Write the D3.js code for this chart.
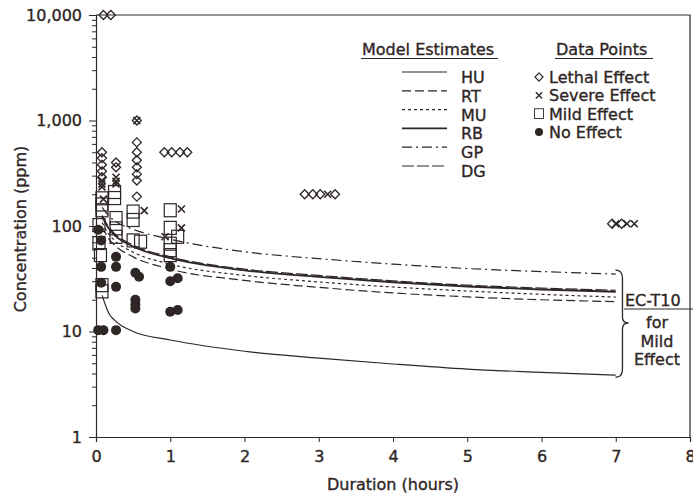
<!DOCTYPE html>
<html>
<head>
<meta charset="utf-8">
<script src="https://cdn.jsdelivr.net/npm/d3@7"></script>
<style>
body { margin: 0; background: #fff; }
text { font-family: "DejaVu Sans", Arial, sans-serif; fill: #2f2626; stroke: #2f2626; stroke-width: 0.35px; }
</style>
</head>
<body>
<script>
var width = 693, height = 499;
var ink = "#2f2626";

// model estimate curves (ppm at each duration)
var durations = [0.083, 0.17, 0.25, 0.5, 1, 2, 3, 4, 5, 6, 7];
var HU = [22, 15, 12.8, 10, 8.3, 6.5, 5.6, 4.92, 4.4, 4.1, 3.85];
var RT = [98, 76, 66, 51, 39, 30.5, 26.2, 23.2, 21.3, 20, 19.2];
var MU = [108, 84, 73, 56.5, 43.5, 34, 29.5, 26.4, 24.2, 22.5, 21.2];
var RB = [122, 95, 82, 64, 49.5, 38, 33, 29.3, 26.7, 25, 23.8];
var GP = [150, 125, 112, 93, 75, 57, 49, 43.5, 39.5, 37, 35];
var DG = [126, 98, 85, 66, 51, 39, 34, 30.2, 27.5, 25.8, 24.6];
var modelNames = ["HU", "RT", "MU", "RB", "GP", "DG"];
var modelValues = [HU, RT, MU, RB, GP, DG];
var modelDash = ["none", "9,4", "3,3", "none", "10,4,2,4", "12,3"];
var modelWidth = [1.2, 1.2, 1.2, 1.8, 1.2, 1.2];

// data points [hours, ppm]
var lethal = [[0.1,10000],[0.2,10000],[0.08,500],[0.08,440],[0.08,380],[0.08,330],[0.08,290],
  [0.27,400],[0.27,360],[0.55,1000],[0.55,620],[0.55,500],[0.55,420],[0.55,360],[0.55,310],
  [0.55,270],[0.55,190],[0.92,500],[1.02,500],[1.13,500],[1.23,500],[2.81,200],[2.92,200],
  [3.02,200],[3.22,200],[6.95,105],[7.08,105]];
var severe = [[0.08,270],[0.08,250],[0.08,235],[0.1,180],[0.27,290],[0.27,265],[0.27,250],
  [0.55,1000],[0.65,140],[1.15,145],[1.15,96],[0.93,79],[3.12,200],[7.0,105],[7.15,105],[7.25,105]];
var mild = [[0.08,183],[0.08,160],[0.08,141],[0.04,102],[0.04,69],[0.06,53],[0.08,27.5],[0.08,24],
  [0.25,210],[0.25,184],[0.27,119],[0.27,95],[0.27,79],[0.5,137],[0.5,114],[0.5,73],[0.6,71],
  [1,141],[1,96],[1.1,79],[1,68],[1,59],[1,53]];
var noEffect = [[0.03,92],[0.07,73],[0.07,41],[0.07,29],[0.03,10.3],[0.1,10.3],[0.27,51],[0.27,41],
  [0.27,26.5],[0.27,10.3],[0.53,36],[0.58,33],[0.53,20],[0.53,18],[0.53,16.5],[1,41],[1,30],
  [1.1,32],[1,15.4],[1.1,16]];

var yTickLabels = ["1", "10", "100", "1,000", "10,000"];

var svg = d3.select("body").append("svg").attr("width", width).attr("height", height);

var x = d3.scaleLinear().domain([0, 8]).range([96, 690]);
var y = d3.scaleLog().domain([1, 10000]).range([437, 15]);

// frame
svg.append("path").attr("fill", "none").attr("stroke", ink).attr("stroke-width", 1.2)
  .attr("d", "M" + x(0) + "," + y(10000) + "H" + x(8) + "V" + y(1));

// x axis
var xAxis = svg.append("g").attr("transform", "translate(0," + y(1) + ")")
  .call(d3.axisBottom(x).ticks(8).tickSize(5).tickPadding(9).tickFormat(d3.format("d")));
xAxis.selectAll("text").style("font-size", "16px");

// y axis with log minor ticks
var yTicks = [];
for (var p = 0; p < 4; p++) {
  for (var m = 1; m < 10; m++) yTicks.push(m * Math.pow(10, p));
}
yTicks.push(10000);
var yAxis = svg.append("g").attr("transform", "translate(" + x(0) + ",0)")
  .call(d3.axisLeft(y).tickValues(yTicks).tickSize(4).tickPadding(10)
    .tickFormat(function(d){
      var k = Math.round(Math.log10(d));
      return Math.abs(Math.log10(d) - k) < 1e-9 ? yTickLabels[k] : "";
    }));
yAxis.selectAll("text").style("font-size", "16px");
yAxis.selectAll(".tick line").attr("x2", function(d){
  return Math.abs(Math.log10(d) - Math.round(Math.log10(d))) < 1e-9 ? -7 : -4;
});
svg.selectAll(".domain").attr("stroke", ink).attr("stroke-width", 1.2);
svg.selectAll(".tick line").attr("stroke", ink);
svg.selectAll(".tick text").attr("fill", ink);

// axis titles
svg.append("text").attr("x", 393).attr("y", 490).attr("text-anchor", "middle")
  .style("font-size", "16px").text("Duration (hours)");
svg.append("text").attr("transform", "translate(26,229) rotate(-90)").attr("text-anchor", "middle")
  .style("font-size", "16px").text("Concentration (ppm)");

// model curves
var line = d3.line()
  .x(function(d){ return x(d[0]); })
  .y(function(d){ return y(d[1]); })
  .curve(d3.curveMonotoneX);
modelValues.forEach(function(vals, i){
  svg.append("path")
    .datum(durations.map(function(t, j){ return [t, vals[j]]; }))
    .attr("fill", "none").attr("stroke", ink).attr("stroke-width", modelWidth[i])
    .attr("stroke-dasharray", modelDash[i] === "none" ? null : modelDash[i])
    .attr("d", line);
});

// marker drawing helpers
function diamond(g, px, py) {
  g.append("path").attr("d", "M" + px + "," + (py - 4.5) + "l4.5,4.5l-4.5,4.5l-4.5,-4.5z")
    .attr("fill", "none").attr("stroke", ink).attr("stroke-width", 1.3);
}
function cross(g, px, py) {
  g.append("path").attr("d", "M" + (px - 3.5) + "," + (py - 3.5) + "l7,7M" + (px + 3.5) + "," + (py - 3.5) + "l-7,7")
    .attr("fill", "none").attr("stroke", ink).attr("stroke-width", 1.6);
}
function square(g, px, py) {
  g.append("rect").attr("x", px - 6).attr("y", py - 6.5).attr("width", 12).attr("height", 13)
    .attr("fill", "none").attr("stroke", ink).attr("stroke-width", 1.2);
}
function dot(g, px, py) {
  g.append("circle").attr("cx", px).attr("cy", py).attr("r", 5).attr("fill", ink);
}

var pts = svg.append("g");
mild.forEach(function(d){ square(pts, x(d[0]), y(d[1])); });
noEffect.forEach(function(d){ dot(pts, x(d[0]), y(d[1])); });
lethal.forEach(function(d){ diamond(pts, x(d[0]), y(d[1])); });
severe.forEach(function(d){ cross(pts, x(d[0]), y(d[1])); });

// legend: model estimates
var lg = svg.append("g");
lg.append("text").attr("x", 362).attr("y", 55).style("font-size", "16px").text("Model Estimates");
lg.append("line").attr("x1", 361).attr("x2", 498).attr("y1", 58.5).attr("y2", 58.5)
  .attr("stroke", ink).attr("stroke-width", 1.2);
modelNames.forEach(function(name, i){
  var ry = 72 + i * 18.8;
  lg.append("line").attr("x1", 402).attr("x2", 447).attr("y1", ry).attr("y2", ry)
    .attr("stroke", ink).attr("stroke-width", modelWidth[i])
    .attr("stroke-dasharray", modelDash[i] === "none" ? null : modelDash[i]);
  lg.append("text").attr("x", 461).attr("y", ry + 11).style("font-size", "16px").text(name);
});

// legend: data points
lg.append("text").attr("x", 556).attr("y", 55).style("font-size", "16px").text("Data Points");
lg.append("line").attr("x1", 555).attr("x2", 653).attr("y1", 58.5).attr("y2", 58.5)
  .attr("stroke", ink).attr("stroke-width", 1.2);
var pointNames = ["Lethal Effect", "Severe Effect", "Mild Effect", "No Effect"];
var pointDraw = [diamond, cross, square, dot];
var pointScale = [0.9, 0.9, 0.75, 0.8];
pointNames.forEach(function(name, i){
  var ry = 77 + i * 18.3;
  var sg = lg.append("g").attr("transform", "translate(539," + ry + ") scale(" + pointScale[i] + ")");
  pointDraw[i](sg, 0, 0);
  lg.append("text").attr("x", 549).attr("y", ry + 6).style("font-size", "16px").text(name);
});

// EC-T10 bracket annotation
var bx = x(7.05);
var brTop = y(GP[GP.length - 1]) - 4;
var brBot = y(HU[HU.length - 1]) + 2;
var brMid = 323;
svg.append("path").attr("fill", "none").attr("stroke", ink).attr("stroke-width", 1.3)
  .attr("d", "M" + (bx - 4) + "," + brTop + "Q" + (bx + 3) + "," + brTop + " " + (bx + 3) + "," + (brTop + 8) +
    "V" + (brMid - 6) + "Q" + (bx + 3) + "," + brMid + " " + (bx + 9) + "," + brMid +
    "Q" + (bx + 3) + "," + brMid + " " + (bx + 3) + "," + (brMid + 6) +
    "V" + (brBot - 8) + "Q" + (bx + 3) + "," + brBot + " " + (bx - 4) + "," + brBot);
svg.append("text").attr("x", 625).attr("y", 306).style("font-size", "16px").text("EC-T10");
svg.append("line").attr("x1", 624).attr("x2", 693).attr("y1", 309).attr("y2", 309)
  .attr("stroke", ink).attr("stroke-width", 1.2);
["for", "Mild", "Effect"].forEach(function(s, i){
  svg.append("text").attr("x", 657).attr("y", 328 + i * 18.5).attr("text-anchor", "middle")
    .style("font-size", "16px").text(s);
});
</script>
</body>
</html>
